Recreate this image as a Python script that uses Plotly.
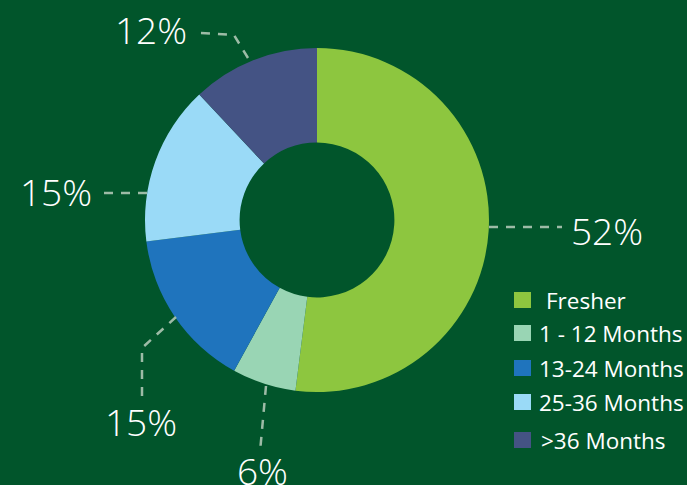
import plotly.graph_objects as go

# ---- data ----
categories = ["Fresher", "1 - 12 Months", "13-24 Months", "25-36 Months", ">36 Months"]
shares = [52, 6, 15, 15, 12]
colors = ["#8DC63F", "#99D5B4", "#1F74BD", "#9ADAF7", "#445384"]

# ---- layout constants (pixels) ----
W, H = 687, 485
BG = "#01552B"
CX, CY, R = 317, 220, 172
HOLE = 0.45
LEADER = "#9DBBA6"
FONT = "Open Sans, Noto Sans, sans-serif"

def px(x):
    return x / W

def py(y):
    return 1 - y / H

# label centre and leader path per category (in pixels)
label_pos = [(607, 230), (262, 470), (141, 421), (56, 192), (151, 29)]
leader_paths = [
    [(489, 227), (562, 227)],
    [(266, 386), (260, 452)],
    [(176, 317), (142, 348), (142, 396)],
    [(147, 193), (100, 193)],
    [(248, 58), (234, 35), (200, 33)],
]
legend_rows = [300, 333, 368, 402, 440]
legend_text_x = [544, 537, 537, 537, 539]

fig = go.Figure()
fig.add_trace(go.Pie(
    labels=categories,
    values=shares,
    sort=False,
    direction="clockwise",
    rotation=0,
    hole=HOLE,
    marker=dict(colors=colors, line=dict(width=0)),
    textinfo="none",
    showlegend=False,
    domain=dict(x=[px(CX - R), px(CX + R)], y=[py(CY + R), py(CY - R)]),
))

shapes = []
annotations = []
for cat, val, col, (lx, ly), path, ry, tx in zip(
        categories, shares, colors, label_pos, leader_paths, legend_rows, legend_text_x):
    d = "M " + " L ".join(f"{px(x)},{py(y)}" for x, y in path)
    shapes.append(dict(type="path", path=d, xref="paper", yref="paper",
                       line=dict(color=LEADER, width=2.5, dash="9px,8px")))
    annotations.append(dict(x=px(lx), y=py(ly), xref="paper", yref="paper",
                            text=f"{val}%", showarrow=False,
                            xanchor="center", yanchor="middle",
                            font=dict(family=FONT, size=37, color="white", weight=300)))
    # legend
    shapes.append(dict(type="rect", xref="paper", yref="paper",
                       x0=px(514), x1=px(531), y0=py(ry + 8), y1=py(ry - 8),
                       fillcolor=col, line=dict(width=0)))
    annotations.append(dict(x=px(tx), y=py(ry), xref="paper", yref="paper",
                            text=cat, showarrow=False,
                            xanchor="left", yanchor="middle",
                            font=dict(family=FONT, size=22.5, color="white")))

fig.update_layout(
    width=W, height=H,
    margin=dict(l=0, r=0, t=0, b=0),
    paper_bgcolor=BG, plot_bgcolor=BG,
    shapes=shapes, annotations=annotations,
    showlegend=False,
)
fig.write_html(
    "out.html",
    config={"displayModeBar": False},
    post_script="document.body.style.margin='0';document.body.style.overflow='hidden';document.body.style.background='" + BG + "';",
)
